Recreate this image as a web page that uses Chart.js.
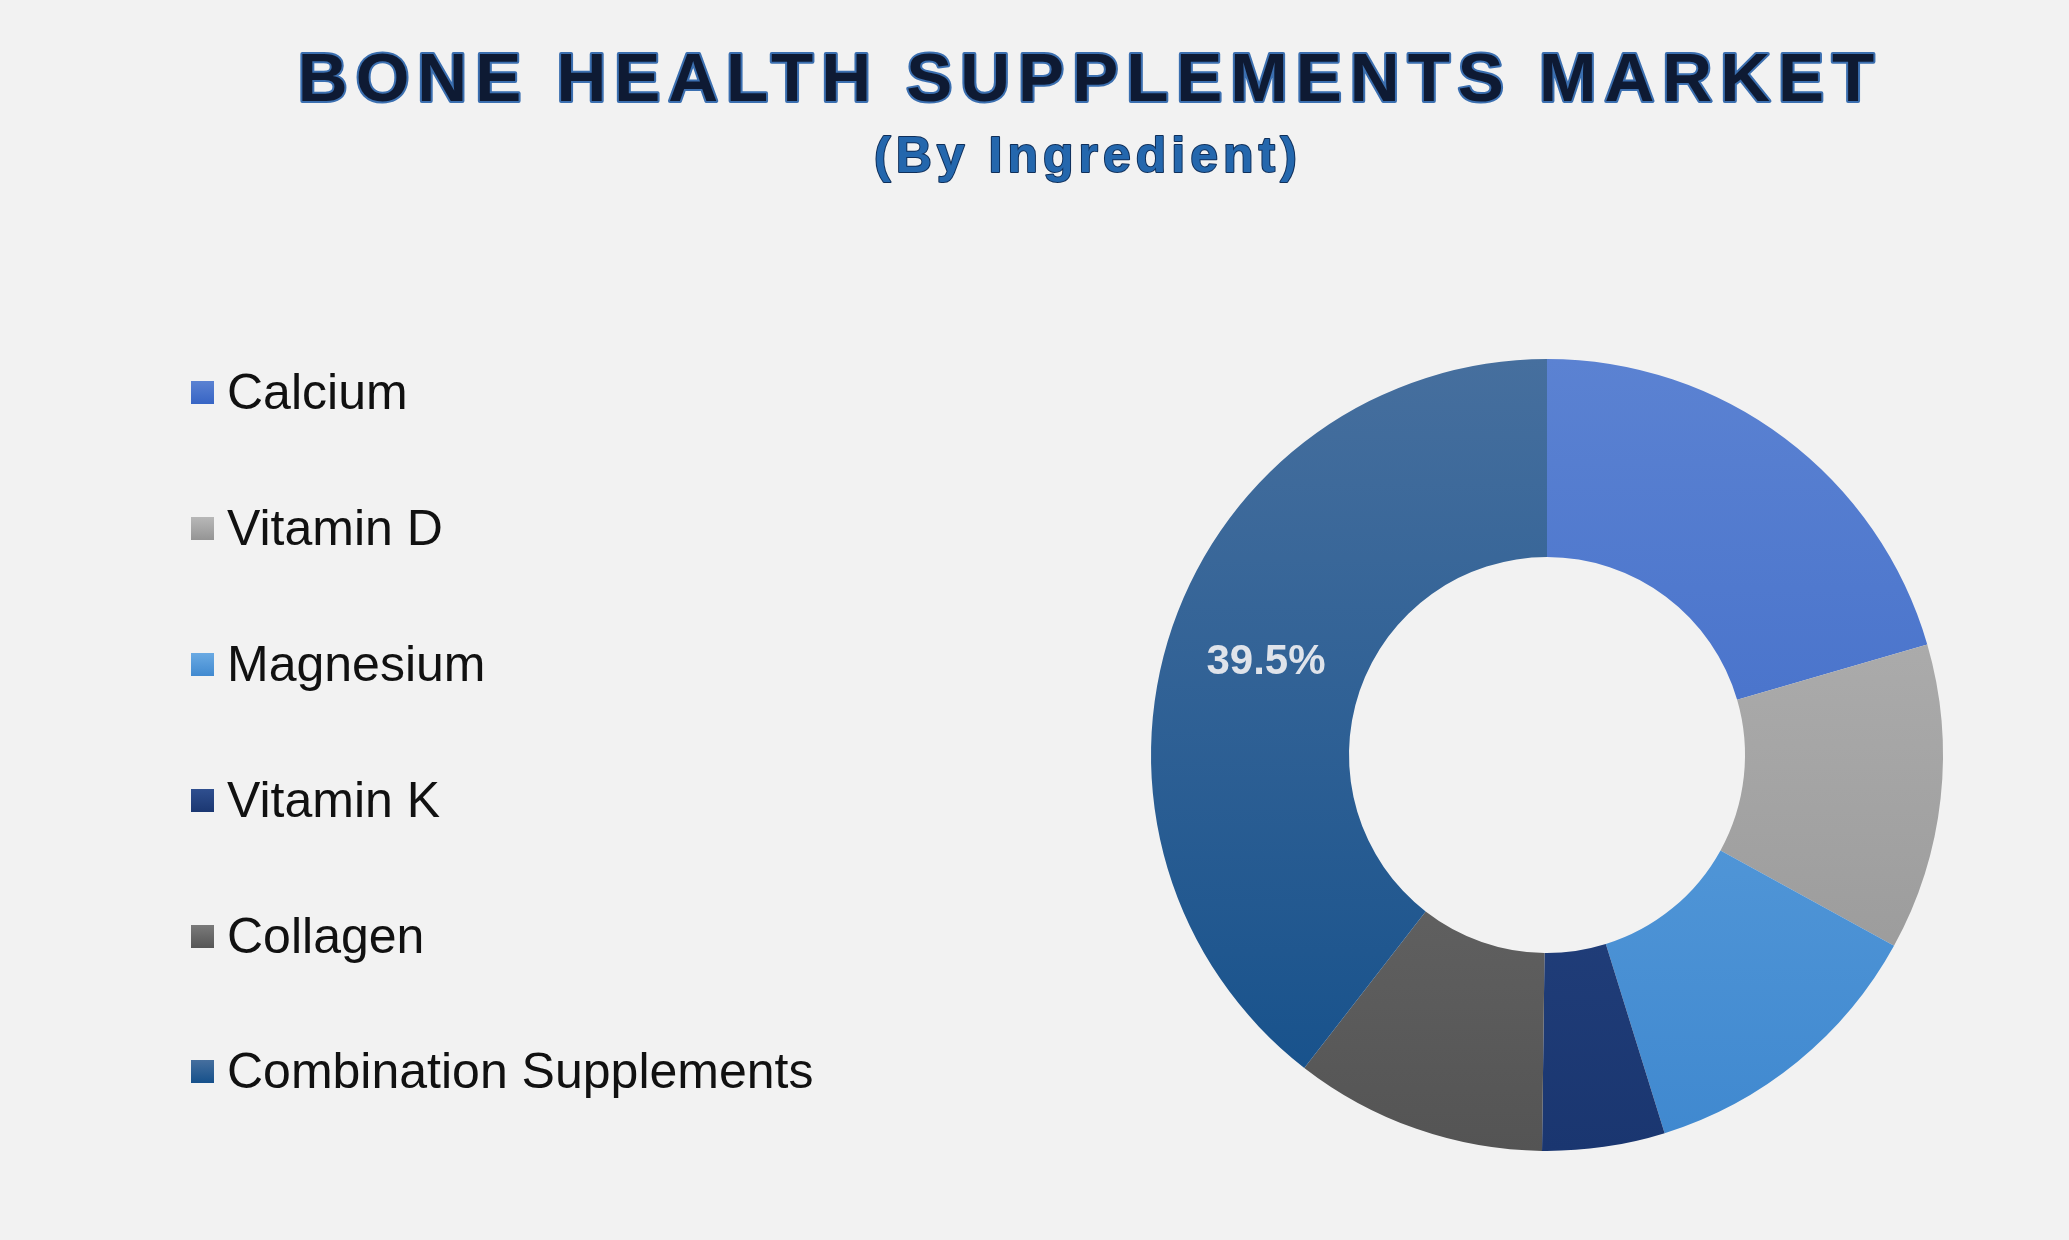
<!DOCTYPE html>
<html><head><meta charset="utf-8">
<script src="https://cdn.jsdelivr.net/npm/chart.js@4"></script>
<style>html,body{margin:0;padding:0;background:#f2f2f2;}#wrap{width:2069px;height:1240px;}</style>
</head><body><div id="wrap"><canvas id="c" width="2069" height="1240"></canvas></div>
<script>
const categories = ["Calcium","Vitamin D","Magnesium","Vitamin K","Collagen","Combination Supplements"];
const shares = [20.5, 12.5, 12.2, 5.0, 10.3, 39.5];
const shownLabels = [null, null, null, null, null, "39.5%"];
const topColors = ["#5b82d2","#b8b8b8","#6aaae3","#2f4f8f","#7a7a7a","#466f9e"];
const bottomColors = ["#3563c4","#939393","#3f88cf","#1a3670","#545454","#134f8a"];

function grad(ctx, i){
  const ch = ctx.chart, a = ch.chartArea;
  if(!a) return bottomColors[i];
  const g = ch.ctx.createLinearGradient(0, a.top, 0, a.bottom);
  g.addColorStop(0, topColors[i]); g.addColorStop(1, bottomColors[i]);
  return g;
}

const deco = {
  id:'deco',
  beforeDraw(ch){
    const c = ch.ctx; c.save();
    c.fillStyle='#f2f2f2'; c.fillRect(0,0,ch.width,ch.height);
    c.textAlign='center'; c.textBaseline='middle'; c.lineJoin='round';
    c.font='bold 69px "Liberation Sans", Arial, sans-serif';
    c.letterSpacing='8px';
    c.lineWidth=4; c.strokeStyle='#3b6fb0';
    c.strokeText('BONE HEALTH SUPPLEMENTS MARKET',1090,82);
    c.fillStyle='#0e1a33';
    c.fillText('BONE HEALTH SUPPLEMENTS MARKET',1090,82);
    c.font='bold 50px "Liberation Sans", Arial, sans-serif';
    c.letterSpacing='5px';
    c.lineWidth=2; c.strokeStyle='#0f2f5a';
    c.strokeText('(By Ingredient)',1088,158);
    c.fillStyle='#2467ad';
    c.fillText('(By Ingredient)',1088,158);
    c.letterSpacing='0px';
    c.textAlign='left';
    c.font='50px "Liberation Sans", Arial, sans-serif';
    const ys=[393,529,665,801,937,1072];
    ch.data.labels.forEach((l,i)=>{
      const g=c.createLinearGradient(0,ys[i]-12,0,ys[i]+12);
      g.addColorStop(0,topColors[i]); g.addColorStop(1,bottomColors[i]);
      c.fillStyle=g; c.fillRect(191,ys[i]-12,23,23);
      c.fillStyle='#111'; c.fillText(l,227,ys[i]+2);
    });
    c.restore();
  },
  afterDatasetsDraw(ch){
    const c=ch.ctx; c.save();
    c.font='bold 42px "Liberation Sans", Arial, sans-serif';
    c.fillStyle='#dfe3ea'; c.textAlign='center'; c.textBaseline='middle';
    ch.getDatasetMeta(0).data.forEach((el,i)=>{
      if(!shownLabels[i]) return;
      const p=el.tooltipPosition();
      c.fillText(shownLabels[i],p.x,p.y+4);
    });
    c.restore();
  }
};

new Chart(document.getElementById('c'),{
  type:'doughnut',
  data:{labels:categories,datasets:[{data:shares,
    backgroundColor:(ctx)=>grad(ctx,ctx.dataIndex),
    borderWidth:0}]},
  options:{responsive:false,animation:false,cutout:'50%',
    layout:{padding:{top:359,bottom:89,left:1151,right:126}},
    plugins:{legend:{display:false},tooltip:{enabled:false}}},
  plugins:[deco]
});
</script></body></html>
